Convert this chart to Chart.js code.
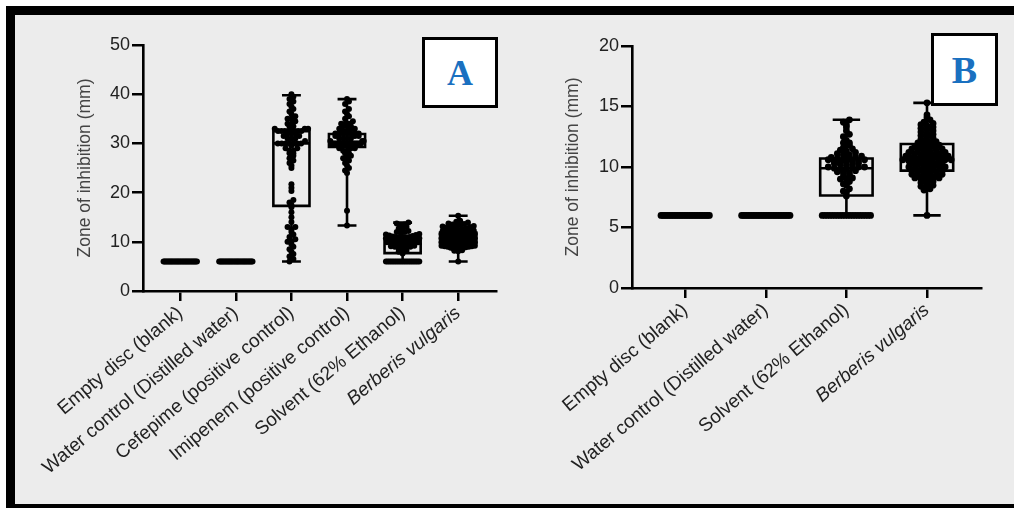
<!DOCTYPE html>
<html><head><meta charset="utf-8">
<script src="https://cdn.jsdelivr.net/npm/chart.js@4.4.1/dist/chart.umd.min.js"></script>
<style>
html,body{margin:0;padding:0;background:#fff;}
body{width:1014px;height:508px;position:relative;overflow:hidden;font-family:"Liberation Sans",Arial,sans-serif;}
#frame{position:absolute;left:6px;top:6px;width:1008px;height:502px;background:#ececec;border-top:9px solid #000;border-left:9px solid #000;border-bottom:4px solid #000;box-sizing:border-box;}
#cA{position:absolute;left:15px;top:15px;}
#cB{position:absolute;left:505px;top:15px;}
.tag{position:absolute;background:#fff;border:3px solid #000;box-sizing:border-box;color:#1a70c0;font-family:"Liberation Serif","Times New Roman",serif;font-weight:bold;display:flex;align-items:center;justify-content:center;}
</style></head>
<body>
<div id="frame"></div>
<canvas id="cA" width="490" height="489"></canvas>
<canvas id="cB" width="509" height="489"></canvas>
<div class="tag" style="left:422px;top:37px;width:76px;height:71px;font-size:36px;">A</div>
<div class="tag" style="left:931px;top:33px;width:67px;height:73px;font-size:38px;">B</div>
<script>
// ---------- DATA ----------
const categoriesA = ['Empty disc (blank)', 'Water control (Distilled water)', 'Cefepime (positive control)', 'Imipenem (positive control)', 'Solvent (62% Ethanol)', 'Berberis vulgaris'];
const categoriesB = ['Empty disc (blank)', 'Water control (Distilled water)', 'Solvent (62% Ethanol)', 'Berberis vulgaris'];
const yTitle = 'Zone of inhibition (mm)';
const yTicksA = [0, 10, 20, 30, 40, 50];
const yTicksB = [0, 5, 10, 15, 20];

const emptyDisc = [6,6,6,6,6,6,6,6,6,6,6,6,6,6,6,6,6,6,6,6,6,6,6,6,6,6,6,6,6,6];
const waterControl = [6,6,6,6,6,6,6,6,6,6,6,6,6,6,6,6,6,6,6,6,6,6,6,6,6,6,6,6,6,6];
const cefepime = [6, 6.5, 7, 7.5, 8, 8.5, 9, 9.5, 10, 10, 10.5, 11, 11.5, 12, 12.5, 13, 13, 14, 15, 16,
  17, 17.5, 18, 18.5, 20.3, 21, 21.7,
  25, 25.5, 26, 26.5, 27, 27.5, 28, 28, 28.5, 28.5, 29, 29, 29.5,
  30, 30, 30, 30, 30, 30, 30, 30.5, 31, 31, 31, 31.5, 31.5, 32, 32, 32, 32.5, 32.5, 32.5, 32.5,
  32.5, 32.5, 32.5, 32.5, 33, 33, 33, 33.5, 33.5, 34, 34, 34.5, 35, 35, 35.5, 36, 36.5, 37, 37.5, 38, 38.5, 39, 39.5, 40];
const imipenem = [13.3, 16.3, 24, 24.5, 25, 25.5, 26, 26.5, 27, 27, 27.5, 28, 28, 28.5, 28.5, 29, 29, 29, 29.5, 29.5,
  29.5, 29.5, 29.5, 30, 30, 30, 30, 30, 30, 30, 30, 30, 30, 30, 30, 30, 30, 30, 30, 30,
  30, 30, 30, 30.5, 30.5, 30.5, 31, 31, 31, 31, 31.5, 31.5, 31.5, 32, 32, 32, 32, 32, 32, 32,
  32.5, 32.5, 33, 33, 33, 33.5, 33.5, 33.5, 34, 34, 34, 34.5, 35, 35.5, 36, 36.5, 37, 38, 38.5, 39];
const solvent = [6,6,6,6,6,6,6,6,6,6,6,6,6,6,6,6,6,6,6,6,
  7.6, 7.9, 8, 8.2, 8.5, 8.6, 8.8, 9, 9, 9.1, 9.2, 9.3, 9.5, 9.5, 9.6, 9.7, 9.8, 9.8, 9.9, 9.9,
  10, 10, 10, 10.1, 10.2, 10.2, 10.3, 10.3, 10.4, 10.4, 10.5, 10.5, 10.5, 10.6, 10.6, 10.7, 10.7, 10.7, 10.8, 10.8,
  10.9, 11, 11, 11.1, 11.2, 11.3, 11.4, 11.5, 11.6, 11.8, 12, 12, 12.2, 12.5, 12.7, 13, 13.3, 13.5, 13.7, 13.9];
const berberis = [6, 8.1, 8.2, 8.3, 8.4, 8.5, 8.6, 8.7, 8.8, 8.9, 9, 9, 9.1, 9.1, 9.2, 9.2, 9.3, 9.3, 9.4, 9.4, 9.5, 9.5, 9.6, 9.6, 9.7,
  9.7, 9.8, 9.8, 9.9, 9.9, 10, 10, 10, 10.1, 10.1, 10.2, 10.2, 10.3, 10.3, 10.4, 10.4, 10.4, 10.5, 10.5, 10.5, 10.6, 10.6, 10.6, 10.7, 10.7,
  10.7, 10.8, 10.8, 10.8, 10.9, 10.9, 11, 11, 11, 11.1, 11.1, 11.2, 11.2, 11.3, 11.3, 11.4, 11.4, 11.5, 11.5, 11.6, 11.6, 11.7, 11.7, 11.8, 11.9,
  12, 12, 12.1, 12.2, 12.3, 12.4, 12.5, 12.6, 12.7, 12.8, 12.9, 13, 13.1, 13.2, 13.3, 13.4, 13.5, 13.6, 13.7, 13.9, 14.1, 14.3, 15.3];

// box statistics; null = no box drawn
const whiskerMinA = [null, null, 6, 13.3, 6, 6];
const q1A        = [null, null, 17.3, 29.3, 7.7, 9.7];
const medianA    = [null, null, 30, 30, 9.9, 10.7];
const q3A        = [null, null, 32.5, 31.9, 10.6, 11.9];
const whiskerMaxA= [null, null, 39.8, 39, 13.9, 15.3];

const whiskerMinB = [null, null, 6, 6];
const q1B        = [null, null, 7.65, 9.7];
const medianB    = [null, null, 9.9, 10.7];
const q3B        = [null, null, 10.7, 11.9];
const whiskerMaxB= [null, null, 13.9, 15.3];

const groupsA = [emptyDisc, waterControl, cefepime, imipenem, solvent, berberis];
const groupsB = [emptyDisc, waterControl, solvent, berberis];

// ---------- LAYOUT HELPERS ----------
const FONT = '"Liberation Sans", Arial, sans-serif';

function swarm(values, center, bin, step, half) {
  const sorted = values.slice().sort((a, b) => a - b);
  const bins = new Map();
  sorted.forEach(v => { const k = Math.round(v / bin); if (!bins.has(k)) bins.set(k, []); bins.get(k).push(v); });
  const pts = [];
  bins.forEach(arr => {
    const n = arr.length;
    const s = n > 1 ? Math.min(step, 2 * half / (n - 1)) : 0;
    const offs = [];
    for (let j = 0; j < n; j++) offs.push((j - (n - 1) / 2) * s);
    offs.sort((a, b) => Math.abs(a) - Math.abs(b));
    arr.forEach((v, j) => pts.push({ x: center + offs[j], y: v }));
  });
  return pts;
}

function boxLines(mins, q1s, meds, q3s, maxs, hw, cw) {
  const out = [];
  mins.forEach((mn, i) => {
    if (mn == null) return;
    const q1 = q1s[i], q3 = q3s[i], md = meds[i], mx = maxs[i];
    out.push({x:i-hw,y:q1},{x:i+hw,y:q1},{x:i+hw,y:q3},{x:i-hw,y:q3},{x:i-hw,y:q1},{x:i+hw,y:q1},{x:i,y:null});
    out.push({x:i-hw,y:md},{x:i+hw,y:md},{x:i,y:null});
    out.push({x:i,y:mn},{x:i,y:q1},{x:i,y:null});
    out.push({x:i,y:q3},{x:i,y:mx},{x:i,y:null});
    out.push({x:i-cw,y:mn},{x:i+cw,y:mn},{x:i,y:null});
    out.push({x:i-cw,y:mx},{x:i+cw,y:mx},{x:i,y:null});
  });
  return out;
}

function makePanel(id, cats, groups, stats, yTicks, cfg) {
  let pts = [];
  groups.forEach((g, i) => { pts = pts.concat(swarm(g, i, cfg.bin, cfg.step, 0.3)); });
  const lines = boxLines(stats[0], stats[1], stats[2], stats[3], stats[4], 0.325, 0.17);
  new Chart(document.getElementById(id), {
    type: 'scatter',
    data: { datasets: [
      { data: lines, showLine: true, spanGaps: false, borderColor: '#000', borderWidth: 2.6, pointRadius: 0,
        borderJoinStyle: 'miter', borderCapStyle: 'butt', fill: false, clip: false },
      { data: pts, pointRadius: cfg.r, pointBackgroundColor: '#000', pointBorderWidth: 0, showLine: false, clip: false }
    ]},
    options: {
      responsive: false, animation: false, events: [],
      layout: { padding: { left: 0, right: cfg.padR, top: cfg.padT, bottom: 0 } },
      plugins: { legend: { display: false }, tooltip: { enabled: false } },
      scales: {
        x: {
          type: 'linear', min: cfg.xMin, max: cfg.xMax,
          afterBuildTicks: s => { s.ticks = cats.map((c, i) => ({ value: i })); },
          afterFit: s => { s.height = cfg.xH; },
          grid: { display: true, drawOnChartArea: false, drawTicks: true, tickLength: 10, color: '#000', lineWidth: 2.5 },
          border: { display: true, color: '#000', width: 2.6 },
          ticks: {
            autoSkip: false, minRotation: 40, maxRotation: 40, padding: 1, color: '#222',
            font: ctx => ({ family: FONT, size: 19, style: (ctx.tick && cats[ctx.tick.value] === 'Berberis vulgaris') ? 'italic' : 'normal' }),
            callback: v => cats[v]
          }
        },
        y: {
          min: yTicks[0], max: yTicks[yTicks.length - 1],
          afterBuildTicks: s => { s.ticks = yTicks.map(v => ({ value: v })); },
          afterFit: s => { s.width = cfg.yW; },
          grid: { display: true, drawOnChartArea: false, drawTicks: true, tickLength: 11, color: '#000', lineWidth: 2.5 },
          border: { display: true, color: '#000', width: 2.6 },
          title: { display: true, text: yTitle, color: '#444', font: { family: FONT, size: 17.5 }, padding: { top: cfg.titleOff, bottom: 0 } },
          ticks: { color: '#222', font: { family: FONT, size: 18 }, padding: 2 }
        }
      }
    }
  });
}

makePanel('cA', categoriesA, groupsA, [whiskerMinA, q1A, medianA, q3A, whiskerMaxA], yTicksA,
  { bin: 0.8, step: 0.07, r: 3, xMin: -0.67, xMax: 5.68, padR: 9, padT: 30, xH: 213, yW: 128, titleOff: 60 });
makePanel('cB', categoriesB, groupsB, [whiskerMinB, q1B, medianB, q3B, whiskerMaxB], yTicksB,
  { bin: 0.3, step: 0.075, r: 3.4, xMin: -0.66, xMax: 3.67, padR: 33, padT: 31, xH: 216, yW: 127, titleOff: 58 });
</script>
</body></html>
